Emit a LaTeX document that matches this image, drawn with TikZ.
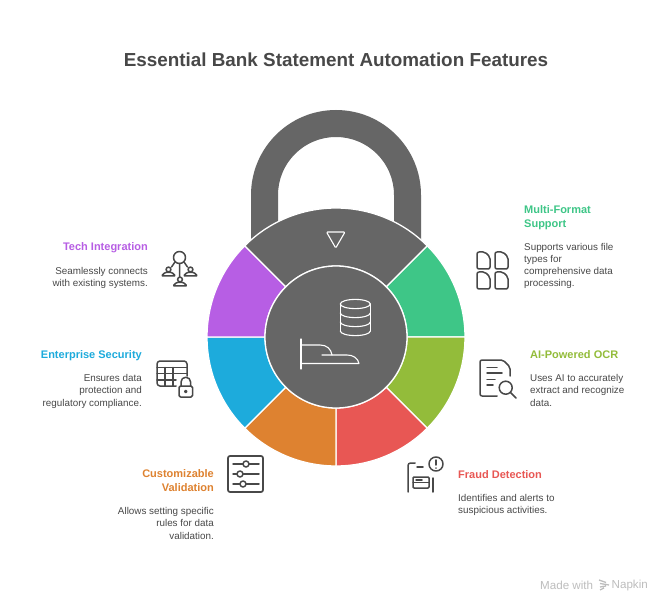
\documentclass[tikz,border=0pt]{standalone}
\usepackage{fontspec}
\setmainfont{Liberation Sans}
\definecolor{lockgray}{HTML}{666666}
\definecolor{inkgray}{HTML}{484848}
\definecolor{markgray}{HTML}{BDBDBD}
\definecolor{multiclr}{HTML}{3EC687}
\definecolor{ocrclr}{HTML}{93BC3A}
\definecolor{fraudclr}{HTML}{E85754}
\definecolor{validclr}{HTML}{DE8230}
\definecolor{secureclr}{HTML}{1DABDC}
\definecolor{techclr}{HTML}{B75EE4}
\usetikzlibrary{positioning}

\begin{document}
\begin{tikzpicture}[
  x=1pt, y=-1pt,
  every node/.style={inner sep=0pt},
  headr/.style={font=\fontsize{11}{14}\selectfont\bfseries, align=right, anchor=north east},
  headl/.style={font=\fontsize{11}{14}\selectfont\bfseries, align=left, anchor=north west},
  descr/.style={font=\fontsize{9.85}{12.1}\selectfont, text=inkgray, align=right, anchor=north east},
  descl/.style={font=\fontsize{9.85}{12.1}\selectfont, text=inkgray, align=left, anchor=north west},
  seg/.style={draw=white, line width=1.3pt, line join=round},
  wline/.style={draw=white, line width=1.1pt, line cap=round, line join=round},
  icn/.style={draw=inkgray, line width=1.5pt, line cap=round, line join=round}
]
  \useasboundingbox (0,0) rectangle (672,612);
  \fill[white] (0,0) rectangle (672,612);

  \node[font=\fontsize{18.85}{23}\selectfont\bfseries, text=inkgray] (title) at (336,60)
    {Essential Bank Statement Automation Features};

  % lock body
  \begin{scope}[shift={(336,337)}, y=1pt]
    \fill[lockgray] (-85,90) -- (-85,142) arc[start angle=180, end angle=0, radius=85]
      -- (85,90) -- (58,90) -- (58,142) arc[start angle=0, end angle=180, radius=58]
      -- (-58,90) -- cycle;
    \foreach \clr/\from/\span in {multiclr/0/45, ocrclr/-45/45, fraudclr/-90/45, validclr/-135/45,
                            secureclr/180/45, techclr/135/45, lockgray/45/90}
      \draw[seg, fill=\clr] (\from:71) -- (\from:129)
        arc[start angle=\from, end angle=\from+\span, radius=129]
        -- (\from+\span:71) arc[start angle=\from+\span, end angle=\from, radius=71] -- cycle;
    \draw[seg, fill=lockgray] (0,0) circle[radius=71];
  \end{scope}

  % white icons on the lock
  \draw[wline, rounded corners=1pt] (326.5,232) -- (345,232) -- (335.7,248) -- cycle;
  \draw[wline] (340.3,304) arc[start angle=180, end angle=-180, x radius=15, y radius=4.6];
  \draw[wline] (340.3,304) -- (340.3,331) (370.3,304) -- (370.3,331);
  \draw[wline] (340.3,313) arc[start angle=180, end angle=0, x radius=15, y radius=4.6];
  \draw[wline] (340.3,322) arc[start angle=180, end angle=0, x radius=15, y radius=4.6];
  \draw[wline] (340.3,331) arc[start angle=180, end angle=0, x radius=15, y radius=4.6];
  \draw[wline] (301,339) -- (301,369);
  \draw[wline] (301,345) -- (320,345) .. controls (327,345) and (331,349) .. (332,355);
  \draw[wline] (322,355) -- (347,355) .. controls (353,355) and (358,358) .. (359,363.5)
    -- (301,363.5);

  % labels
  \node[headl, text=multiclr] (multihead) at (524,205) {Multi-Format\\Support};
  \node[descl] (multitext) at (524,243) {Supports various file\\types for\\comprehensive data\\processing.};
  \node[headl, text=ocrclr] (ocrhead) at (530,350) {AI-Powered OCR};
  \node[descl] (ocrtext) at (530,374.5) {Uses AI to accurately\\extract and recognize\\data.};
  \node[headl, text=fraudclr] (fraudhead) at (458,470) {Fraud Detection};
  \node[descl] (fraudtext) at (458,494.5) {Identifies and alerts to\\suspicious activities.};
  \node[headr, text=validclr] (validhead) at (214,469) {Customizable\\Validation};
  \node[descr] (validtext) at (214,507.5) {Allows setting specific\\rules for data\\validation.};
  \node[headr, text=secureclr] (securehead) at (142,350) {Enterprise Security};
  \node[descr] (securetext) at (142,374.5) {Ensures data\\protection and\\regulatory compliance.};
  \node[headr, text=techclr] (techhead) at (148,242) {Tech Integration};
  \node[descr] (techtext) at (148,267) {Seamlessly connects\\with existing systems.};

  % tech integration icon
  \draw[icn] (179.5,257.5) circle[radius=6];
  \draw[icn] (179.5,263.5) -- (179.5,277) (175,262) -- (171.5,267) (184,262) -- (187.5,267);
  \foreach \px/\py in {168.5/269.5, 190.5/269.5, 180/279.5} {
    \draw[icn] (\px,\py) circle[radius=2.4];
    \draw[icn, rounded corners=1pt] (\px-7,\py+6.5) -- (\px-3.5,\py+3) -- (\px+3.5,\py+3)
      -- (\px+7,\py+6.5) -- cycle;
  }

  % security icon
  \draw[icn, rounded corners=3pt] (176,386) -- (157,386) -- (157,361) -- (187,361) -- (187,376);
  \draw[icn] (157,367.5) -- (187,367.5) (157,373.5) -- (187,373.5) (157,380) -- (176,380);
  \draw[icn] (165,367.5) -- (165,386) (173,367.5) -- (173,386);
  \draw[icn, rounded corners=1.5pt] (179,386) rectangle (192.5,397);
  \draw[icn] (181,386) -- (181,382) arc[start angle=180, end angle=360, radius=4.8] -- (190.6,386);
  \draw[icn] (185.7,391.5) circle[radius=1.1];

  % multi format icon
  \foreach \dx in {477,495}
    \foreach \dy in {252,272}
      \draw[icn, rounded corners=2pt] (\dx,\dy+8) -- (\dx,\dy) -- (\dx+8,\dy) -- (\dx+13,\dy+5)
        -- (\dx+13,\dy+17) -- (\dx,\dy+17) -- cycle;

  % ocr icon
  \draw[icn, rounded corners=2pt] (497,396) -- (480,396) -- (480,360) -- (503,360)
    -- (510,367) -- (510,376);
  \draw[icn] (487,367.5) -- (497,367.5) (487,373) -- (502,373) (487,379.5) -- (495,379.5)
    (487,385) -- (493,385);
  \draw[icn] (505.7,387.7) circle[radius=6.5];
  \draw[icn] (510.5,392.5) -- (516,398);

  % fraud icon
  \draw[icn, rounded corners=2.5pt] (408,492) -- (408,463) -- (415,463);
  \draw[icn] (417,467) -- (423,467) (433,478) -- (433,492) (416,480) -- (422,480);
  \draw[icn, rounded corners=1pt] (413,477) rectangle (429,488);
  \draw[icn] (413,482.5) -- (429,482.5);
  \draw[icn] (436,464) circle[radius=7];
  \draw[icn] (436,460) -- (436,465) (436,468) -- (436,468.1);

  % validation icon
  \draw[icn, line width=1.7pt, rounded corners=2pt] (228,456) rectangle (263,492);
  \draw[icn] (233,464) -- (259,464) (233,474) -- (259,474) (233,484) -- (259,484);
  \foreach \sx/\sy in {246/464, 240/474, 243/484}
    \draw[icn, fill=white] (\sx,\sy) circle[radius=3];

  % made with mark
  \node[font=\fontsize{11.6}{13}\selectfont, text=markgray, anchor=west] (madewith) at (540,585) {Made with};
  \draw[markgray, line width=1.3pt] (599,580) -- (606,582.5) (600,583.5) -- (609,585)
    (600,587) -- (606,586) (600,590) -- (604,588);
  \node[font=\fontsize{11.6}{13}\selectfont, text=markgray, anchor=west] (napkin) at (611.5,585) {Napkin};
\end{tikzpicture}
\end{document}
